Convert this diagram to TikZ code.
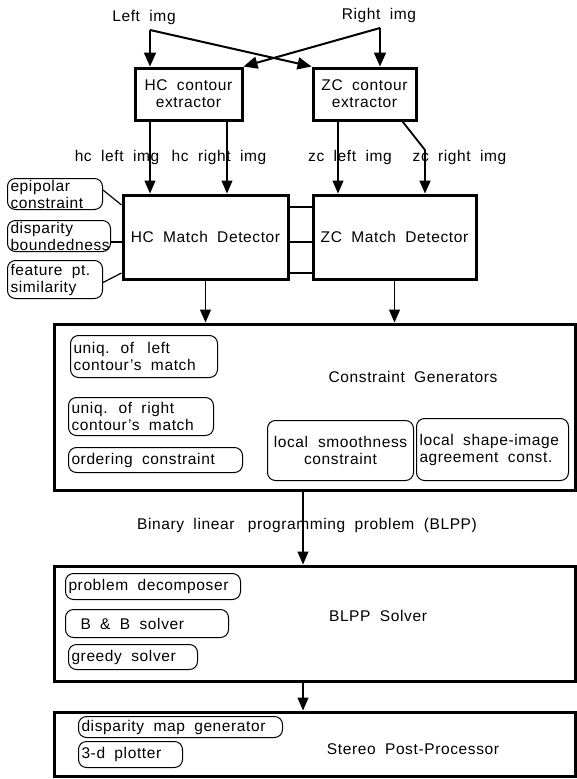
\documentclass[tikz,border=0pt]{standalone}
\usepackage{fontspec}
\setmainfont{Liberation Sans}[LetterSpace=4,WordSpace=1.9]
\usepackage{tikz}
\usetikzlibrary{arrows.meta}
\def\stagewidth{521pt}

\begin{document}
\begin{tikzpicture}[x=1pt,y=-1pt,line width=1.2pt,
      >={Triangle[length=13pt,width=11pt]},
      font=\fontsize{15.5}{17}\selectfont]
      \tikzstyle{block}=[draw,line width=3pt,inner sep=0pt]
      \tikzstyle{extractor}=[block,align=center,minimum height=52pt]
      \tikzstyle{detector}=[block,minimum height=84pt]
      \tikzstyle{stage}=[block,minimum width=\stagewidth]
      \tikzstyle{cons}=[draw,rounded corners=8pt,line width=1pt,inner xsep=3pt,
                        inner ysep=0.5pt,align=left,anchor=north west,
                        execute at begin node={\spaceskip=0pt\xspaceskip=0pt\relax}]
      \tikzstyle{feed}=[-{Triangle[length=14pt,width=12pt]},line width=2pt]
      \useasboundingbox (0,0) rectangle (577,779);

      % Draw the input images
      \node (limg) at (144,17.5) {Left img};
      \node (rimg) at (379,15) {Right img};
      \coordinate (ltop) at (150,30);
      \coordinate (rtop) at (380,28);

      % Draw the contour extractors
      \node[extractor,minimum width=107pt] (hcx) at (188.5,94) {HC contour\\extractor};
      \node[extractor,minimum width=103pt] (zcx) at (364.5,94) {ZC contour\\extractor};

      % Draw the match detectors
      \node[detector,minimum width=165pt] (hcm) at (205.5,237) {HC Match Detector};
      \node[detector,minimum width=163pt] (zcm) at (394.5,237) {ZC Match Detector};

      % Draw the three stages below
      \node[stage,minimum height=166pt] (cg) at (315,407) {};
      \node[stage,minimum height=115pt] (blpp) at (314.5,623.5) {};
      \node[stage,minimum height=64pt] (spp) at (314.5,744) {};
      \node (cgt) at (413,377) {Constraint Generators};
      \node (blppt) at (378,616) {BLPP Solver};
      \node (sppt) at (413,749) {Stereo Post-Processor};

      % Constraints used by the HC match detector
      \node[cons,text width=89pt,minimum height=31pt] (epi) at (7,178) {epipolar\\constraint};
      \node[cons,text width=97pt,minimum height=31pt] (disp) at (7,220) {disparity\\boundedness};
      \node[cons,text width=89pt,minimum height=38pt] (feat) at (7,260) {feature pt.\\similarity};

      % Constraint generators
      \node[cons,text width=141pt,minimum height=42pt] (uniql) at (70,335) {uniq. of\hspace{4pt} left\\contour's match};
      \node[cons,text width=139pt,minimum height=38pt] (uniqr) at (68,397) {uniq. of right\\contour's match};
      \node[cons,text width=168pt,minimum height=25pt] (order) at (68,447) {ordering constraint};
      \node[cons,text width=140pt,minimum height=60pt,align=center] (lsm) at (267,420) {local smoothness\\constraint};
      \node[cons,text width=146pt,minimum height=62pt] (lsh) at (416,418) {local shape-image\\agreement const.};

      % BLPP solver parts
      \node[cons,text width=169pt,minimum height=26pt] (decomp) at (65,573) {problem decomposer};
      \node[cons,text width=157pt,minimum height=28pt] (bnb) at (65,609) {\hspace*{12pt}B \& B solver};
      \node[cons,text width=123pt,minimum height=25pt] (greedy) at (68,644) {greedy solver};

      % Post-processor parts
      \node[cons,text width=198pt,minimum height=21pt] (dmap) at (78,716) {disparity map generator};
      \node[cons,text width=98pt,minimum height=26pt] (plot) at (78,741) {3-d plotter};

      % Feed the images to both extractors
      \draw[feed] (ltop) -- (ltop |- hcx.north);
      \draw[feed] (ltop) -- (zcx.north west);
      \draw[feed] (rtop) -- (rtop |- zcx.north);
      \draw[feed] (rtop) -- (hcx.north east);

      % Contour images into the match detectors
      \draw[->] ([xshift=-38.5pt]hcx.south) -- ([xshift=-38.5pt]hcx.south |- hcm.north);
      \draw[->] ([xshift=38.5pt]hcx.south) -- ([xshift=38.5pt]hcx.south |- hcm.north);
      \draw[->] ([xshift=-26.5pt]zcx.south) -- ([xshift=-26.5pt]zcx.south |- zcm.north);
      \coordinate (zcbend) at (425,150);
      \draw[->,line width=1.8pt] ([xshift=-15pt]zcx.south east) -- (zcbend) -- (zcbend |- zcm.north);
      \node (hcl) at (117,157) {hc left img};
      \node (hcr) at (219,157) {hc right img};
      \node (zcl) at (350,157) {zc left img};
      \node (zcr) at (459.5,157) {zc right img};

      % Constraints on the HC match detector
      \draw ([yshift=4pt]epi.east) -- ([yshift=32pt]hcm.west);
      \draw ([yshift=-6pt]disp.east) -- ([yshift=-6pt]disp.east -| hcm.west);
      \draw ([yshift=-3pt]feat.east) -- ([yshift=-36pt]hcm.west);

      % Links between the two detectors
      \foreach \dy in {30,-5,-36}
          \draw ([yshift=\dy pt]hcm.east) -- ([yshift=\dy pt]hcm.east -| zcm.west);

      % Down the pipeline
      \draw[->] (hcm.south) -- (hcm.south |- cg.north);
      \draw[->] (zcm.south) -- (zcm.south |- cg.north);
      \draw[->] ([xshift=-12pt]cg.south) -- ([xshift=-12pt]cg.south |- blpp.north);
      \node (blppin) at (307,525) {Binary linear\hspace{4pt} programming problem (BLPP)};
      \draw[->] ([xshift=-11.5pt]blpp.south) -- ([xshift=-11.5pt]blpp.south |- spp.north);
\end{tikzpicture}
\end{document}
